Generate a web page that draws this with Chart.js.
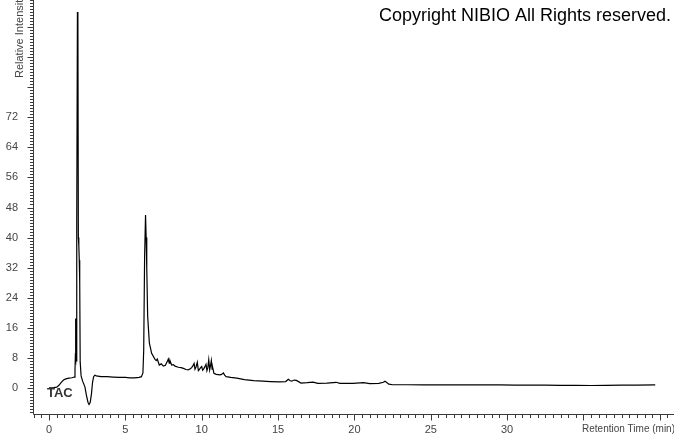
<!DOCTYPE html>
<html>
<head>
<meta charset="utf-8">
<script src="https://cdn.jsdelivr.net/npm/chart.js@4/dist/chart.umd.min.js"></script>
<style>
  html, body { margin: 0; padding: 0; background: #ffffff; }
  #wrap { width: 674px; height: 434px; }
</style>
</head>
<body>
<div id="wrap"><canvas id="c" width="674" height="434"></canvas></div>
<script>
// ---- data ----
const retentionTimes = [
  0.00, 0.30, 0.50, 0.65, 0.80, 0.95, 1.10, 1.30, 1.50, 1.65,
  1.70, 1.72, 1.73, 1.74, 1.75, 1.76, 1.78, 1.80, 1.83, 1.86,
  1.89, 1.92, 1.95, 1.98, 2.01, 2.04, 2.10, 2.20, 2.35, 2.45,
  2.55, 2.62, 2.70, 2.78, 2.85, 2.92, 3.00, 3.10, 3.40, 3.80,
  4.20, 4.60, 5.00, 5.30, 5.60, 5.90, 6.05, 6.15, 6.20, 6.26,
  6.32, 6.36, 6.40, 6.46, 6.57, 6.72, 6.94, 7.02, 7.09, 7.22,
  7.35, 7.49, 7.62, 7.74, 7.81, 7.87, 7.92, 8.03, 8.15, 8.25,
  8.47, 8.65, 8.80, 8.97, 9.12, 9.25, 9.34, 9.44, 9.50, 9.56,
  9.63, 9.71, 9.78, 9.84, 9.93, 10.00, 10.06, 10.12, 10.20, 10.28,
  10.34, 10.40, 10.46, 10.52, 10.57, 10.63, 10.68, 10.72, 10.80, 10.95,
  11.20, 11.30, 11.42, 11.50, 11.60, 11.90, 12.30, 12.80, 13.40, 14.00,
  14.50, 15.10, 15.50, 15.67, 15.80, 15.90, 16.05, 16.20, 16.50, 16.90,
  17.30, 17.60, 18.20, 18.80, 19.05, 19.90, 20.60, 21.00, 21.60, 21.90,
  22.00, 22.10, 22.25, 22.50, 23.50, 24.50, 25.50, 26.50, 27.50, 28.50,
  29.50, 30.50, 31.50, 32.50, 33.50, 34.50, 35.50, 36.50, 37.50, 38.50,
  39.70
];
const relativeIntensity = [
  0.0, 0.1, 0.2, 0.7, 1.5, 2.1, 2.4, 2.6, 2.7, 2.9,
  4.5, 8.0, 13.0, 7.5, 18.5, 8.0, 11.0, 7.0, 45.0, 100.0,
  99.0, 40.0, 38.0, 34.0, 28.0, 7.0, 3.2, 1.8, 0.3, -2.0,
  -3.8, -4.4, -3.8, -1.5, 1.5, 3.0, 3.4, 3.2, 3.0, 3.0,
  2.9, 2.8, 2.8, 2.7, 2.7, 2.8, 3.0, 4.0, 10.0, 35.0,
  46.0, 40.0, 32.0, 19.0, 12.0, 9.2, 7.6, 7.3, 7.7, 6.1,
  6.4, 5.8, 6.0, 7.0, 7.7, 6.6, 7.3, 6.1, 6.2, 5.8,
  5.5, 5.4, 5.2, 4.9, 4.8, 5.1, 5.4, 6.0, 6.5, 5.0,
  5.6, 6.8, 4.6, 4.9, 5.4, 5.7, 4.7, 5.0, 5.6, 6.3,
  4.6, 5.4, 7.5, 4.8, 5.8, 7.3, 5.0, 5.4, 3.9, 3.6,
  3.5, 3.6, 4.0, 3.4, 3.0, 2.8, 2.6, 2.2, 1.95, 1.8,
  1.7, 1.6, 1.7, 2.3, 1.9, 1.8, 2.1, 2.0, 1.3, 1.4,
  1.55, 1.2, 1.3, 1.5, 1.2, 1.2, 1.4, 1.15, 1.2, 1.5,
  1.8, 1.5, 1.0, 0.85, 0.85, 0.8, 0.85, 0.8, 0.85, 0.8,
  0.8, 0.75, 0.75, 0.75, 0.7, 0.7, 0.65, 0.7, 0.75, 0.75,
  0.8
];
const yTickLabels = [0, 8, 16, 24, 32, 40, 48, 56, 64, 72];
const xTickLabels = [0, 5, 10, 15, 20, 25, 30];
const traceName = 'TAC';
const yAxisTitle = 'Relative Intensity';
const xAxisTitle = 'Retention Time (min)';
const copyrightText = 'Copyright NIBIO All Rights reserved.';

// ---- chart ----
const FONT = '"Liberation Sans", Arial, Helvetica, sans-serif';
const points = retentionTimes.map((t, i) => ({ x: t, y: relativeIntensity[i] }));

function noPad(s) {
  s.paddingTop = 0; s.paddingBottom = 0; s.paddingLeft = 0; s.paddingRight = 0;
}

const decorPlugin = {
  id: 'decor',
  afterDatasetsDraw(chart) {
    const { ctx, chartArea: a, scales: { x, y } } = chart;
    ctx.save();
    ctx.strokeStyle = '#3a3a3a';
    ctx.lineWidth = 1;
    ctx.beginPath();
    const ax = Math.round(a.left) + 0.5;
    const ay = Math.round(a.bottom) - 0.5;
    ctx.moveTo(ax, a.top); ctx.lineTo(ax, ay);
    ctx.moveTo(ax, ay); ctx.lineTo(a.right, ay);
    // y ticks (minor every 0.8, major every 8)
    for (let k = -8; k * 0.8 <= y.max; k++) {
      const v = k * 0.8;
      if (v < y.min) continue;
      const py = Math.round(y.getPixelForValue(v)) + 0.5;
      const major = k % 10 === 0;
      ctx.moveTo(ax - (major ? 6 : 3.5), py); ctx.lineTo(ax, py);
    }
    // x ticks (minor every 0.5, major every 5)
    for (let k = -2; k * 0.5 <= x.max; k++) {
      const v = k * 0.5;
      if (v < x.min) continue;
      const px = Math.round(x.getPixelForValue(v)) + 0.5;
      const major = k % 10 === 0;
      ctx.moveTo(px, ay); ctx.lineTo(px, ay + (major ? 6 : 3.5));
    }
    ctx.stroke();

    // y axis title (rotated)
    ctx.fillStyle = '#444';
    ctx.font = '11px ' + FONT;
    ctx.save();
    ctx.translate(23, 78);
    ctx.rotate(-Math.PI / 2);
    ctx.textAlign = 'left';
    ctx.textBaseline = 'alphabetic';
    ctx.fillText(yAxisTitle, 0, 0);
    ctx.restore();

    // x axis title
    ctx.textAlign = 'left';
    ctx.textBaseline = 'middle';
    ctx.fillText(xAxisTitle, 582, 428.5, 93);

    // trace name
    ctx.fillStyle = '#333';
    ctx.font = 'bold 13px ' + FONT;
    ctx.textBaseline = 'alphabetic';
    ctx.fillText(traceName, 47, 397);

    // copyright
    ctx.fillStyle = '#000';
    ctx.font = '18px ' + FONT;
    ctx.textAlign = 'right';
    ctx.fillText(copyrightText, 671, 21, 295);
    ctx.restore();
  }
};

new Chart(document.getElementById('c'), {
  type: 'line',
  data: {
    datasets: [{
      data: points,
      borderColor: '#000',
      borderWidth: 1.2,
      pointRadius: 0,
      tension: 0,
      fill: false
    }]
  },
  options: {
    responsive: false,
    animation: false,
    devicePixelRatio: 1,
    events: [],
    layout: { padding: 0 },
    plugins: { legend: { display: false }, tooltip: { enabled: false } },
    scales: {
      x: {
        type: 'linear',
        min: -1.05,
        max: 40.93,
        grid: { display: false, drawTicks: false },
        border: { display: false },
        afterBuildTicks(s) { s.ticks = xTickLabels.map(v => ({ value: v })); },
        afterFit(s) { s.height = 19; noPad(s); },
        ticks: {
          autoSkip: false, maxRotation: 0, padding: 8,
          color: '#444', font: { family: FONT, size: 11 },
          callback: v => String(v)
        }
      },
      y: {
        type: 'linear',
        min: -7.2,
        max: 103.2,
        grid: { display: false, drawTicks: false },
        border: { display: false },
        afterBuildTicks(s) { s.ticks = yTickLabels.map(v => ({ value: v })); },
        afterFit(s) { s.width = 33; noPad(s); },
        ticks: {
          autoSkip: false, padding: 15,
          color: '#444', font: { family: FONT, size: 11 },
          callback: v => String(v)
        }
      }
    }
  },
  plugins: [decorPlugin]
});
</script>
</body>
</html>
